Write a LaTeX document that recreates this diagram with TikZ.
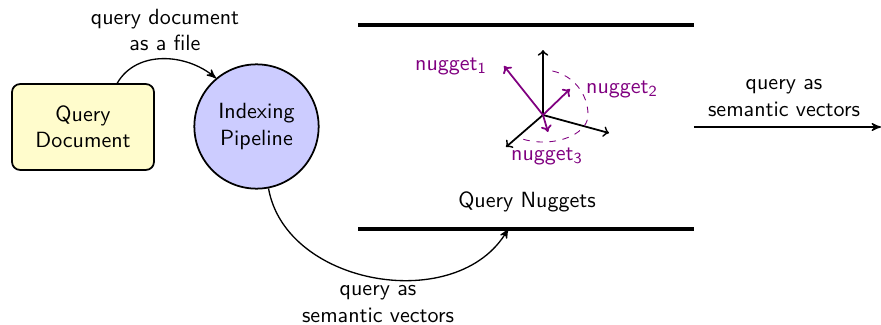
\documentclass[tikz,border=0pt]{standalone}
\usetikzlibrary{arrows,arrows.meta,calc}
\definecolor{nugcol}{RGB}{128,0,128}
\begin{document}
\begin{tikzpicture}[x=0.4545pt,y=-0.4545pt,
  font=\sffamily,
  every node/.style={align=center},
  docbox/.style={draw,thick,rounded corners=3.6pt,fill=yellow!20,
    minimum width=64.5pt,minimum height=39pt,inner sep=0pt},
  procbox/.style={draw,thick,circle,fill=blue!20,minimum size=56.5pt,inner sep=0pt},
  storebox/.style={minimum width=152.3pt,minimum height=92.2pt,inner sep=0pt},
  flow/.style={semithick,-stealth'},
  axis/.style={thick,-to},
  nug/.style={thick,nugcol,-{To[length=3pt,width=5pt]}},
  nuglabel/.style={text=nugcol,inner sep=1pt}]
\useasboundingbox (0,0) rectangle (881,325);

% data flow nodes
\node[docbox] (qd) at (83,127) {Query\\Document};
\node[procbox] (pipe) at (256.5,126.5) {Indexing\\Pipeline};
\node[storebox] (store) at (526,127) {};
\draw[line width=1.5pt] (store.north west) -- (store.north east);
\draw[line width=1.5pt] (store.south west) -- (store.south east);
\node (storelabel) at (527,202) {Query Nuggets};

% three axes of the embedding space
\coordinate (o) at (543,115);
\coordinate (ax) at (543,50);
\coordinate (ay) at (609,133);
\coordinate (az) at (506,147);
\draw[axis] (o) -- (ax);
\draw[axis] (o) -- (ay);
\draw[axis] (o) -- (az);

% dashed sphere outline (y axis points down here)
\draw[nugcol,dashed,thin] (552.4,71) arc[start angle=-78,end angle=0,radius=45]
  arc[start angle=0,end angle=125,x radius=45,y radius=27];

% nugget vectors
\coordinate (n1) at (504,66);
\coordinate (n2) at (570,89);
\coordinate (n3) at (548,132);
\draw[nug] (o) -- (n1);
\draw[nug] (o) -- (n2);
\draw[nug] (o) -- (n3);
\node[nuglabel] (l1) at (451,66) {nugget\textsubscript{1}};
\node[nuglabel] (l2) at (622,89) {nugget\textsubscript{2}};
\node[nuglabel] (l3) at (547,156) {nugget\textsubscript{3}};

% connectors
\draw[flow] (qd.52) to[out=60,in=140] (pipe.130);
\node (lab1) at (165,30) {query document\\as a file};

\coordinate (storein) at ($(store.south west)!0.447!(store.south east)$);
\draw[flow] (pipe.-79) to[out=-80,in=240,looseness=1.05] (storein);
\node[inner sep=0pt] (lab2) at (378,304) {query as\\semantic vectors};

\coordinate (out) at (881,127);
\draw[flow] (store.east) -- (out);
\node (lab3) at (784,98) {query as\\semantic vectors};
\end{tikzpicture}
\end{document}
